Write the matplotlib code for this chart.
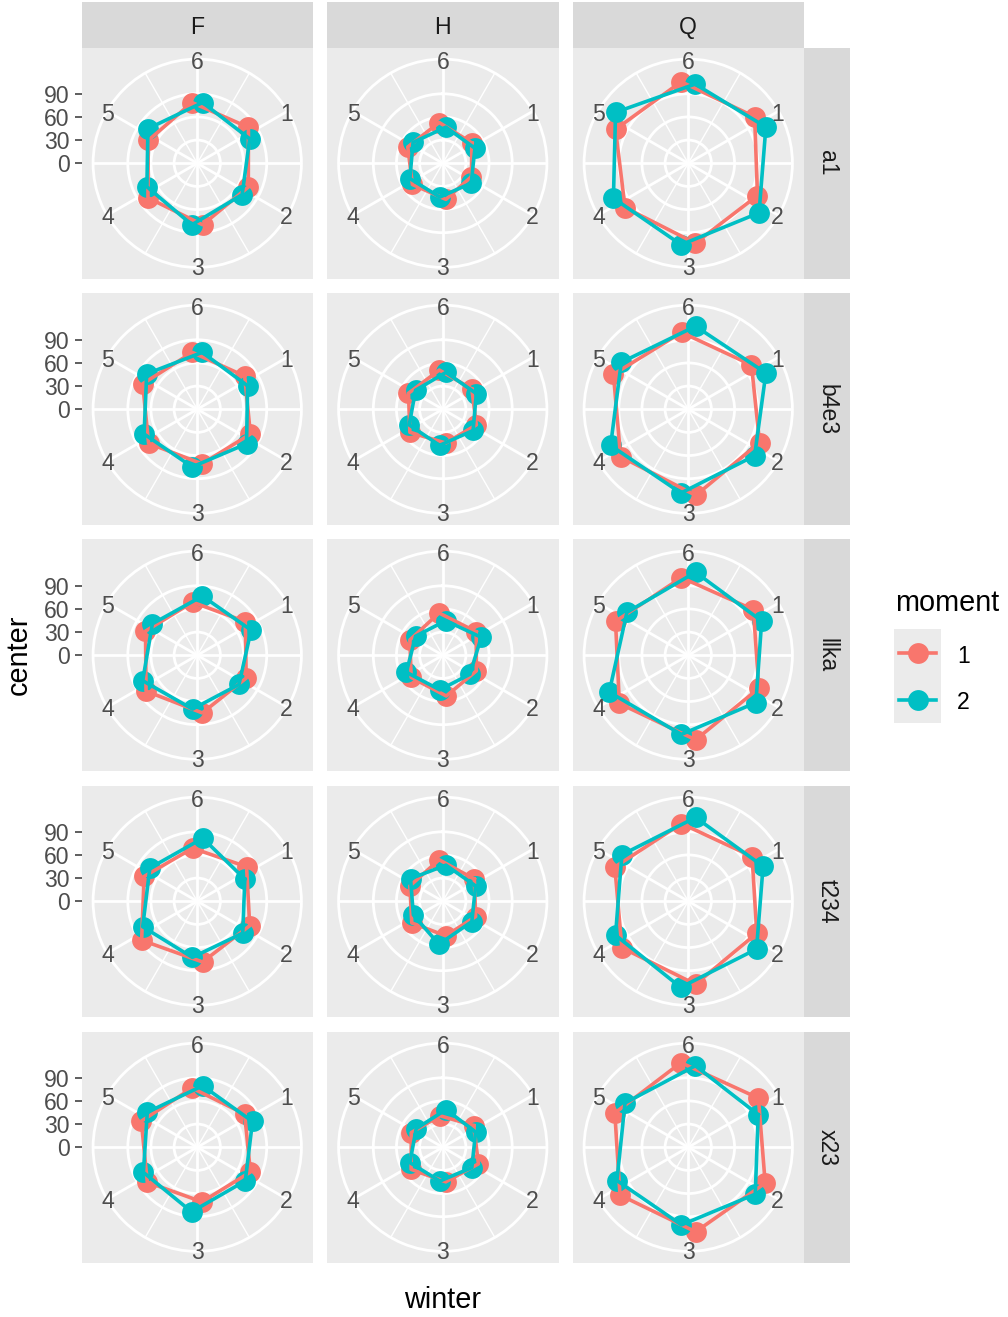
import numpy as np
import matplotlib.pyplot as plt

plt.rcParams['font.family'] = ['Liberation Sans', 'DejaVu Sans']

# ---- data (center by winter 1..6), one nested list per winter-facet/moment ----
winter = [1, 2, 3, 4, 5, 6]
cols = ['F', 'H', 'Q']
rows = ['a1', 'b4e3', 'llka', 't234', 'x23']
moments = ['1', '2']
colors = ['#F8766D', '#00BFC4']

F_m1 = [[81, 73, 80, 78, 70, 79], [75, 76, 71, 77, 78, 74], [76, 70, 75, 81, 74, 69],
        [78, 75, 79, 88, 76, 69], [75, 76, 71, 79, 80, 77]]
F_m2 = [[75, 71, 80, 72, 78, 79], [72, 78, 75, 76, 80, 74], [77, 66, 70, 78, 71, 77],
        [68, 72, 73, 78, 75, 82], [79, 76, 84, 77, 79, 80]]
H_m1 = [[46, 41, 47, 48, 50, 53], [46, 48, 44, 52, 49, 51], [53, 48, 53, 50, 47, 55],
        [50, 47, 45, 49, 47, 54], [49, 51, 45, 50, 45, 41]]
H_m2 = [[46, 45, 44, 47, 47, 47], [48, 48, 47, 48, 43, 48], [55, 43, 45, 52, 43, 45],
        [47, 46, 56, 42, 51, 47], [47, 46, 44, 47, 42, 49]]
Q_m1 = [[105, 99, 104, 100, 104, 106], [100, 102, 112, 107, 107, 100], [103, 101, 110, 109, 104, 101],
        [101, 98, 108, 105, 105, 101], [111, 110, 110, 108, 105, 110]]
Q_m2 = [[111, 112, 106, 107, 115, 103], [111, 105, 109, 111, 106, 108], [105, 107, 103, 113, 97, 108],
        [107, 108, 112, 104, 105, 109], [100, 106, 101, 102, 100, 106]]
series = {'F': (F_m1, F_m2), 'H': (H_m1, H_m2), 'Q': (Q_m1, Q_m2)}

r_breaks = [0, 30, 60, 90]
R = 120          # top of radial scale
dodge = [-5 / 60, 5 / 60]

W, Hpx = 1008, 1317
fig = plt.figure(figsize=(W / 100, Hpx / 100), dpi=100)


def rect(x, y, w, h):
    return [x / W, 1 - (y + h) / Hpx, w / W, h / Hpx]


def theta(w):
    return 2 * np.pi * np.asarray(w, dtype=float) / 6


size = 231.5
txt = 16.6
ms = 15
major_deg = [60, 90, 120, 180, 240, 270, 300, 360]
minor_deg = [30, 150, 210, 330]

for i, rname in enumerate(rows):
    for j, cname in enumerate(cols):
        x0 = 81.5 + 245.5 * j
        y0 = 47.5 + 246 * i
        bg = fig.add_axes(rect(x0, y0, size, size))
        bg.set_facecolor('#EBEBEB')
        bg.set_xlim(-1.25 * R, 1.25 * R)
        bg.set_ylim(-1.25 * R, 1.25 * R)
        for s in bg.spines.values():
            s.set_visible(False)
        bg.set_xticks([])
        if j == 0:
            bg.set_yticks(r_breaks)
            bg.set_yticklabels([str(b) for b in r_breaks])
            bg.tick_params(axis='y', length=5, width=1.1, color='#333333',
                           labelcolor='#4D4D4D', labelsize=txt, pad=3.5)
        else:
            bg.set_yticks([])

        side = 0.9 * size
        c = size / 2
        ax = fig.add_axes(rect(x0 + c - side / 2, y0 + c - side / 2, side, side), projection='polar')
        ax.set_facecolor('none')
        ax.set_theta_zero_location('N')
        ax.set_theta_direction(-1)
        ax.set_ylim(0, 1.125 * R)
        ax.set_yticks(r_breaks[1:])
        ax.set_yticklabels([])
        ax.set_xticks(np.deg2rad(major_deg))
        ax.set_xticklabels([])
        ax.set_xticks(np.deg2rad(minor_deg), minor=True)
        ax.tick_params(which='both', length=0)
        ax.grid(which='major', color='white', lw=2.0)
        ax.xaxis.grid(which='minor', color='white', lw=1.0)
        ax.spines['polar'].set_color('white')
        ax.spines['polar'].set_linewidth(2.0)
        ax.set_axisbelow(True)

        for k in range(2):
            vals = np.array(series[cname][k][i], dtype=float)
            th = theta(np.array(winter) + dodge[k])
            ax.plot(th, vals, 'o', color=colors[k], ms=ms, mec='none', zorder=3, clip_on=False)
        for k in range(2):
            vals = np.array(series[cname][k][i], dtype=float)
            th = theta(np.array(winter) + dodge[k])
            ax.plot(np.append(th, th[0]), np.append(vals, vals[0]), color=colors[k],
                    lw=2.6, zorder=4, clip_on=False)

        for w in winter:
            ax.text(theta(w), 1.115 * R, str(w), ha='center', va='center_baseline',
                    fontsize=txt, color='#4D4D4D', clip_on=False, zorder=5)

        if i == 0:
            sa = fig.add_axes(rect(x0, 2, size, 45.5))
            sa.set_facecolor('#D9D9D9')
            sa.set_xticks([]); sa.set_yticks([])
            for s in sa.spines.values():
                s.set_visible(False)
            sa.text(0.5, 0.5, cname, ha='center', va='center_baseline', fontsize=txt,
                    color='#1A1A1A', transform=sa.transAxes)
        if j == 2:
            sa = fig.add_axes(rect(x0 + size, y0, 46, size))
            sa.set_facecolor('#D9D9D9')
            sa.set_xticks([]); sa.set_yticks([])
            for s in sa.spines.values():
                s.set_visible(False)
            sa.text(0.5, 0.5, rname, ha='center', va='center', rotation=-90, fontsize=txt,
                    color='#1A1A1A', transform=sa.transAxes)

# axis titles
fig.text(19 / W, 1 - 655 / Hpx, 'center', rotation=90, ha='center', va='center', fontsize=20.8)
fig.text(443 / W, 1 - 1300 / Hpx, 'winter', ha='center', va='center', fontsize=20.8)

# legend
fig.text(895 / W, 1 - 603 / Hpx, 'moment', ha='left', va='center', fontsize=20.8)
lg = fig.add_axes(rect(894, 629, 47, 94))
lg.set_facecolor('#EBEBEB')
lg.set_xlim(0, 1)
lg.set_ylim(0, 2)
lg.set_xticks([]); lg.set_yticks([])
for s in lg.spines.values():
    s.set_visible(False)
for k, m in enumerate(moments):
    yk = 1.5 - k
    lg.plot([0.1, 0.9], [yk, yk], color=colors[k], lw=2.6)
    lg.plot([0.5], [yk], 'o', color=colors[k], ms=ms, mec='none')
    fig.text(957 / W, 1 - (654 + 46 * k) / Hpx, m, ha='left', va='center_baseline', fontsize=txt)

fig.savefig('out.png', dpi=100)
